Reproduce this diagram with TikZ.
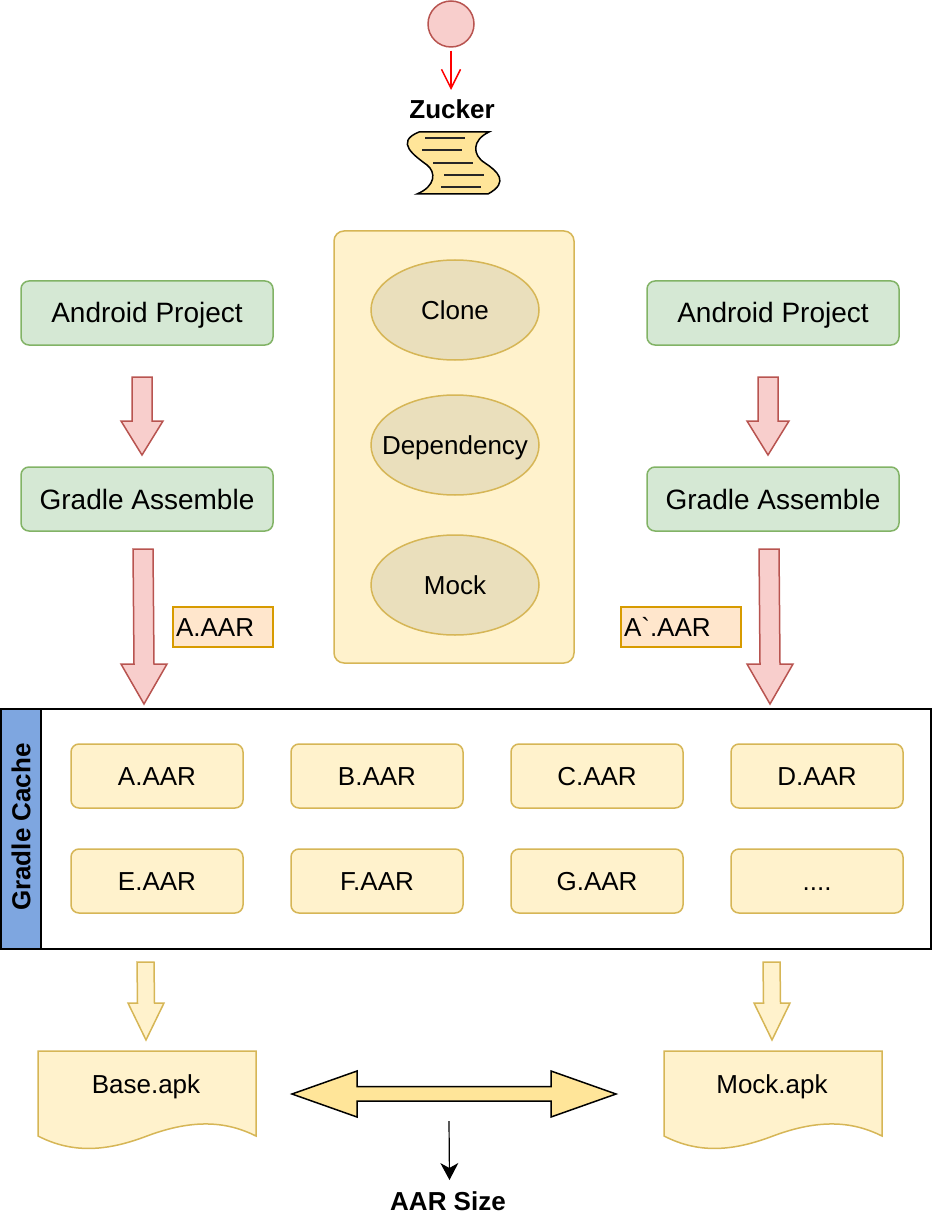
\documentclass[tikz,border=0pt]{standalone}
\usepackage{fontspec}
\setmainfont{Liberation Sans}
\newfontfamily\plainfont{Liberation Sans}
\usetikzlibrary{arrows.meta, shapes.geometric}
\definecolor{redfill}{HTML}{F8CECC}
\definecolor{redline}{HTML}{B85450}
\definecolor{greenfill}{HTML}{D5E8D4}
\definecolor{greenline}{HTML}{82B366}
\definecolor{yellowfill}{HTML}{FFF2CC}
\definecolor{yellowline}{HTML}{D6B656}
\definecolor{orangefill}{HTML}{FFE6CC}
\definecolor{orangeline}{HTML}{D79B00}
\definecolor{strongfill}{HTML}{FFE599}
\definecolor{ovalfill}{HTML}{EADFBC}
\definecolor{bluefill}{HTML}{7EA6E0}
\tikzset{>=Stealth,
  txt/.style={font=\fontsize{#1}{#1}\selectfont, text depth=0pt},
  project/.style={draw=greenline, fill=greenfill, line width=1.5pt, rounded corners=8pt, minimum width=252pt, minimum height=64pt, txt=28, text height=20pt},
  aarbox/.style={draw=yellowline, fill=yellowfill, line width=1.5pt, rounded corners=8pt, minimum width=172pt, minimum height=64pt, txt=26, text height=19pt},
  oval/.style={draw=yellowline, fill=ovalfill, line width=1.5pt, ellipse, minimum width=168pt, minimum height=100pt, inner sep=0pt, txt=26, text height=19pt},
  tag/.style={draw=orangeline, fill=orangefill, line width=1.8pt, minimum height=40pt, anchor=west, inner sep=3pt, outer sep=0pt, txt=26, text height=19pt},
  redarrow/.style={draw=redline, fill=redfill, line width=1.5pt},
  yellowarrow/.style={draw=yellowline, fill=yellowfill, line width=1.5pt},
  apk/.style={draw=yellowline, fill=yellowfill, line width=1.5pt},
  boldtxt/.style={font=\fontsize{26}{26}\selectfont\bfseries}
}
% #1 style, #2 top centre x, #3 tip x, #4 top y, #5 neck y, #6 tip y, #7 half shaft, #8 half head
\newcommand{\downarrowshape}[8]{
\draw[#1] ({#2-#7},#4) -- ({#2+#7},#4) -- ({#3+#7},#5) -- ({#3+#8},#5) -- (#3,#6) -- ({#3-#8},#5) -- ({#3-#7},#5) -- cycle;
}
\begin{document}
\begin{tikzpicture}[x=1pt, y=-1pt]
\useasboundingbox (0,0) rectangle (934,1222);
% start
\node[circle, draw=redline, fill=redfill, line width=1.5pt, minimum size=46pt, inner sep=0pt] (start) at (451,24) {};
\node[boldtxt] (zucker) at (452,109) {Zucker};
\coordinate (startend) at (451,90);
\draw[red, line width=1.5pt, -{Straight Barb[length=19pt,width=19pt]}] (start.south) ++(0,3) -- (startend);
% scroll
\draw[black, fill=strongfill, line width=1.5pt] (419,132) -- (489,132)
  .. controls (472,140) and (472,155) .. (485,163)
  .. controls (497,171) and (510,182) .. (488,194)
  -- (417,194)
  .. controls (436,186) and (436,172) .. (427,165)
  .. controls (415,156) and (394,142) .. (419,132) -- cycle;
\foreach \xa/\ya in {425/138, 422/150, 433/163, 444/175, 441/187}
\draw[line width=1.5pt, black!85] (\xa,\ya) -- ({\xa+40},\ya);
% middle column
\node[draw=yellowline, fill=yellowfill, line width=1.5pt, rounded corners=10pt, minimum width=240pt, minimum height=432pt] (panel) at (454,447) {};
\node[oval] (clone) at (455,310) {\makebox[0pt]{Clone}};
\node[oval] (dependency) at (455,445) {\makebox[0pt]{Dependency}};
\node[oval] (mock) at (455,585) {\makebox[0pt]{Mock}};
% projects
\node[project] (projecta) at (147,313) {Android Project};
\node[project] (assemblea) at (147,499) {Gradle Assemble};
\node[project] (projectb) at (773,313) {Android Project};
\node[project] (assembleb) at (773,499) {Gradle Assemble};
\downarrowshape{redarrow}{142}{142}{377}{421}{455}{10}{21}
\downarrowshape{redarrow}{768}{768}{377}{421}{455}{10}{21}
\downarrowshape{redarrow}{143}{144}{549}{664}{704}{10}{23}
\downarrowshape{redarrow}{769}{770}{549}{664}{704}{10}{23}
\node[tag, minimum width=100pt, text width=94pt] (taga) at (173,627) {A.AAR};
\node[tag, minimum width=120pt, text width=114pt] (tagb) at (621,627) {A{\plainfont\char96}.AAR};
% cache
\draw[line width=1.8pt, fill=white] (1,709) rectangle (931,949);
\node[draw, fill=bluefill, line width=1.8pt, minimum width=40pt, minimum height=240pt] (cachehead) at (21,829) {};
\node[boldtxt, rotate=90] (cache) at (21,827) {Gradle Cache};
\foreach \nm/\xc/\yc/\lbl in {a/157/776/A.AAR, b/377/776/B.AAR, c/597/776/C.AAR, d/817/776/D.AAR, e/157/881/E.AAR, f/377/881/F.AAR, g/597/881/G.AAR, h/817/881/{....}}
\node[aarbox] (aar\nm) at (\xc,\yc) {\lbl};
% apks
\downarrowshape{yellowarrow}{145.5}{146}{962}{1003}{1040}{8.5}{18}
\downarrowshape{yellowarrow}{771.5}{772}{962}{1003}{1040}{8.5}{18}
\foreach \xl/\nm/\lbl in {38/base/Base.apk, 664/mocked/Mock.apk}{
\draw[apk] (\xl,1051) -- ({\xl+218},1051) -- ({\xl+218},1136)
  .. controls ({\xl+190},1122) and ({\xl+157},1118) .. ({\xl+109},1136)
  .. controls ({\xl+72},1150) and ({\xl+37},1155) .. (\xl,1136) -- cycle;
\node[txt=26, text height=19pt] (\nm) at ({\xl+108},1084) {\lbl};
}
% compare
\draw[black, fill=strongfill, line width=1.5pt] (292,1094) -- (357,1071) -- (357,1086.5) -- (551,1086.5) -- (551,1071) -- (616,1094) -- (551,1117) -- (551,1101) -- (357,1101) -- (357,1117) -- cycle;
\coordinate (sizetop) at (449,1121);
\node[boldtxt] (size) at (448,1201) {AAR Size};
\draw[line width=1.2pt, -{Stealth[length=17pt,width=18pt,inset=5pt]}] (sizetop) -- (449.5,1180);
\end{tikzpicture}
\end{document}
